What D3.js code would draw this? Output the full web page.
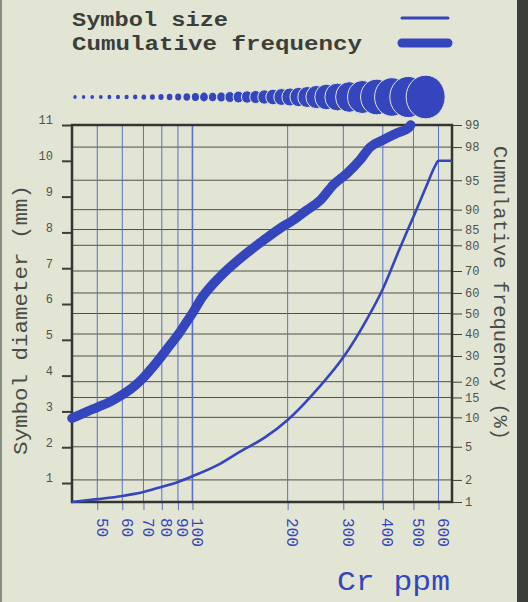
<!DOCTYPE html>
<html>
<head>
<meta charset="utf-8">
<script src="https://cdn.jsdelivr.net/npm/d3@7"></script>
<style>
  html, body { margin: 0; padding: 0; background: #e2e5d4; }
  svg { display: block; }
</style>
</head>
<body>
<svg width="528" height="602"></svg>
<script>
// ---- data
const crTicks = [50, 60, 70, 80, 90, 100, 200, 300, 400, 500, 600];
const diamTicks = [1, 2, 3, 4, 5, 6, 7, 8, 9, 10, 11];
const freqTicks = [1, 2, 5, 10, 15, 20, 30, 40, 50, 60, 70, 80, 85, 90, 95, 98, 99];

// symbol size curve (thin line, left axis)
const sizeCr = [41.6, 50, 60, 70, 80, 90, 100, 120, 141, 170, 200, 250, 300, 355, 400, 450, 500, 550, 585, 600, 662];
const sizeMm = [0.47, 0.55, 0.64, 0.75, 0.89, 1.03, 1.19, 1.5, 1.87, 2.28, 2.76, 3.65, 4.51, 5.55, 6.42, 7.5, 8.44, 9.3, 9.85, 10.0, 10.0];

// cumulative frequency curve (thick line, right axis)
const freqCr = [41.6, 46.4, 50.2, 54.9, 59.8, 64.3, 69.7, 74.4, 79.6, 85.0, 89.9, 96.0, 100, 107, 122, 142, 164, 189, 209, 230, 254, 279, 308, 339, 365, 402, 443, 482, 490];
const freqPct = [9.8, 11.3, 12.4, 13.8, 15.7, 17.8, 21.2, 25.0, 29.7, 34.9, 39.5, 46.0, 50.1, 57.6, 67.4, 75.3, 80.9, 85.3, 87.6, 89.9, 91.9, 94.4, 95.8, 97.1, 98.0, 98.4, 98.7, 98.9, 99.0];

// symbol row (diameters in mm)
const symbolMm = [0.47, 0.5, 0.53, 0.57, 0.61, 0.65, 0.7, 0.75, 0.82, 0.9, 0.99, 1.1, 1.2, 1.35, 1.5, 1.68, 1.85, 2.0, 2.2, 2.4, 2.55, 2.7,
                  3.0, 3.3, 3.6, 3.9, 4.2, 4.6, 5.1, 5.7, 6.2, 6.9, 7.5, 8.1, 8.8, 9.4, 10];

// ---- inverse normal (probability axis)
function probit(p) {
    const a = [-3.969683028665376e+01, 2.209460984245205e+02, -2.759285104469687e+02, 1.383577518672690e+02, -3.066479806614716e+01, 2.506628277459239e+00];
    const b = [-5.447609879822406e+01, 1.615858368580409e+02, -1.556989798598866e+02, 6.680131188771972e+01, -1.328068155288572e+01];
    const c = [-7.784894002430293e-03, -3.223964580411365e-01, -2.400758277161838e+00, -2.549732539343734e+00, 4.374664141464968e+00, 2.938163982698783e+00];
    const d = [7.784695709041462e-03, 3.224671290700398e-01, 2.445134137142996e+00, 3.754408661907416e+00];
    const pl = 0.02425;
    let q, r;
    if (p < pl) {
        q = Math.sqrt(-2 * Math.log(p));
        return (((((c[0]*q+c[1])*q+c[2])*q+c[3])*q+c[4])*q+c[5]) / ((((d[0]*q+d[1])*q+d[2])*q+d[3])*q+1);
    }
    if (p <= 1 - pl) {
        q = p - 0.5; r = q * q;
        return (((((a[0]*r+a[1])*r+a[2])*r+a[3])*r+a[4])*r+a[5])*q / (((((b[0]*r+b[1])*r+b[2])*r+b[3])*r+b[4])*r+1);
    }
    q = Math.sqrt(-2 * Math.log(1 - p));
    return -(((((c[0]*q+c[1])*q+c[2])*q+c[3])*q+c[4])*q+c[5]) / ((((d[0]*q+d[1])*q+d[2])*q+d[3])*q+1);
}

const svg = d3.select('svg');
const W = 528, H = 602;
const m = { left: 72, right: 76, top: 125, bottom: 100 };
const x0 = m.left, x1 = W - m.right, y0 = m.top, y1 = H - m.bottom;

const blue = '#3445bd';
const gridBlue = '#5a6fd0';
const ink = '#3b3e39';
const mono = "'Liberation Mono', 'DejaVu Sans Mono', monospace";

// ---- scales
const x = d3.scaleLog().domain([41.6, 662]).range([x0, x1]);
const yDiam = d3.scaleLinear().domain([0.47, 11]).range([y1, y0]);
const zScale = d3.scaleLinear().domain([probit(0.01), probit(0.99)]).range([y1, y0]);
const yProb = p => zScale(probit(p / 100));

// ---- page edges
svg.append('rect').attr('width', W).attr('height', H).attr('fill', '#e2e5d4');
svg.append('rect').attr('x', 517).attr('y', 0).attr('width', 11).attr('height', H).attr('fill', '#3c3e3a');
svg.append('rect').attr('x', 0).attr('y', 0).attr('width', 2).attr('height', H).attr('fill', '#8a8d84');

// ---- grid
const g = svg.append('g');
g.selectAll('.hgrid').data(freqTicks.filter(p => p > 1 && p < 99)).join('line')
    .attr('class', 'hgrid')
    .attr('x1', x0).attr('x2', x1)
    .attr('y1', d => yProb(d)).attr('y2', d => yProb(d))
    .attr('stroke', '#4e504b').attr('stroke-width', 1);

g.selectAll('.vgrid').data(crTicks).join('line')
    .attr('class', 'vgrid')
    .attr('x1', d => x(d)).attr('x2', d => x(d))
    .attr('y1', y0).attr('y2', y1)
    .attr('stroke', gridBlue).attr('stroke-width', d => d === 100 ? 1.6 : 1);

// ---- axes
const axLeft = svg.append('g')
    .attr('transform', `translate(${x0},0)`)
    .call(d3.axisLeft(yDiam).tickValues(diamTicks).tickSize(10).tickFormat(d3.format('d')));
axLeft.select('.domain').remove();
axLeft.selectAll('line').attr('stroke', ink).attr('stroke-width', 2);
axLeft.selectAll('text')
    .attr('x', -19).attr('dy', '-0.1em')
    .attr('fill', '#50534d').style('font-family', mono).style('font-size', '12px');

const axRight = svg.append('g')
    .attr('transform', `translate(${x1},0)`)
    .call(d3.axisRight(zScale).tickValues(freqTicks.map(p => probit(p / 100))).tickSize(10)
        .tickFormat((d, i) => freqTicks[i]));
axRight.select('.domain').remove();
axRight.selectAll('line').attr('stroke', ink).attr('stroke-width', 1);
axRight.selectAll('text')
    .attr('x', 13)
    .attr('fill', '#50534d').style('font-family', mono).style('font-size', '12px');

const axBottom = svg.append('g')
    .attr('transform', `translate(0,${y1})`)
    .call(d3.axisBottom(x).tickValues(crTicks).tickSize(8).tickFormat(d3.format('d')));
axBottom.select('.domain').remove();
axBottom.selectAll('line').attr('stroke', gridBlue).attr('stroke-width', 1);
axBottom.selectAll('text')
    .attr('x', 0).attr('y', 0).attr('dy', '0')
    .attr('text-anchor', 'start')
    .attr('transform', 'translate(-1,16) rotate(90)')
    .attr('fill', blue).style('font-family', mono).style('font-size', '16px');

// ---- frame
svg.append('rect')
    .attr('x', x0).attr('y', y0).attr('width', x1 - x0).attr('height', y1 - y0)
    .attr('fill', 'none').attr('stroke', '#333530').attr('stroke-width', 2.5);

// ---- curves
const sizeLine = d3.line()
    .x(d => x(d[0])).y(d => yDiam(d[1]))
    .curve(d3.curveMonotoneX);
svg.append('path')
    .datum(d3.zip(sizeCr, sizeMm))
    .attr('d', sizeLine)
    .attr('fill', 'none').attr('stroke', blue).attr('stroke-width', 2.6)
    .attr('stroke-linejoin', 'round');

const freqLine = d3.line()
    .x(d => x(d[0])).y(d => yProb(d[1]))
    .curve(d3.curveMonotoneX);
svg.append('path')
    .datum(d3.zip(freqCr, freqPct))
    .attr('d', freqLine)
    .attr('fill', 'none').attr('stroke', blue).attr('stroke-width', 9.5)
    .attr('stroke-linecap', 'round').attr('stroke-linejoin', 'round');

// ---- symbol row
const rScale = d3.scaleLinear().domain([0, 10]).range([0.8, 19.5]);
const symbols = [];
symbolMm.forEach((mm, i) => {
    const r = rScale(mm);
    const prev = symbols[i - 1];
    const cx = prev ? prev.cx + Math.max(8.6, 0.46 * (prev.r + r)) : 75;
    symbols.push({ cx, r });
});
svg.append('g').selectAll('ellipse').data(symbols).join('ellipse')
    .attr('cx', d => d.cx).attr('cy', 97)
    .attr('rx', d => d.r).attr('ry', d => d.r * 1.12)
    .attr('fill', blue)
    .attr('stroke', d => d.r > 4 ? '#e2e5d4' : 'none').attr('stroke-width', 1);

// ---- titles
svg.append('text')
    .attr('transform', 'translate(27,320) rotate(-90)')
    .attr('text-anchor', 'middle')
    .attr('textLength', 270).attr('lengthAdjust', 'spacingAndGlyphs')
    .attr('fill', '#4a4d47').style('font-family', mono).style('font-size', '21px')
    .text('Symbol diameter (mm)');

svg.append('text')
    .attr('transform', 'translate(494,293) rotate(90)')
    .attr('text-anchor', 'middle')
    .attr('textLength', 294).attr('lengthAdjust', 'spacingAndGlyphs')
    .attr('fill', '#4a4d47').style('font-family', mono).style('font-size', '21px')
    .text('Cumulative frequency (%)');

svg.append('text')
    .attr('x', 337).attr('y', 590)
    .attr('textLength', 113).attr('lengthAdjust', 'spacingAndGlyphs')
    .attr('fill', blue).style('font-family', mono).style('font-size', '27px')
    .text('Cr ppm');

// ---- legend
const legend = [
    { label: 'Symbol size', len: 156, width: 3 },
    { label: 'Cumulative frequency', len: 290, width: 9 }
];
const lg = svg.append('g');
lg.selectAll('text').data(legend).join('text')
    .attr('x', 72).attr('y', (d, i) => 26 + i * 24)
    .attr('textLength', d => d.len).attr('lengthAdjust', 'spacingAndGlyphs')
    .attr('fill', ink).style('font-family', mono).style('font-size', '20px')
    .style('font-weight', 'bold')
    .text(d => d.label);
lg.selectAll('line').data(legend).join('line')
    .attr('x1', 402).attr('x2', 448)
    .attr('y1', (d, i) => 18 + i * 25).attr('y2', (d, i) => 18 + i * 25)
    .attr('stroke', blue).attr('stroke-width', d => d.width)
    .attr('stroke-linecap', 'round');
</script>
</body>
</html>
